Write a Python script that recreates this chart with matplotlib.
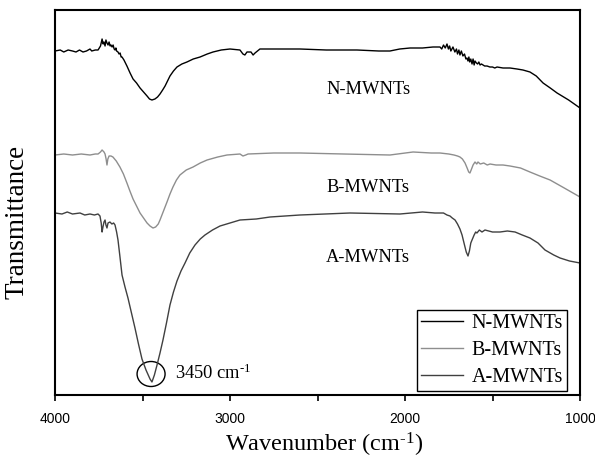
import matplotlib
matplotlib.use('Agg')
import matplotlib.pyplot as plt
from matplotlib.patches import Ellipse

plt.rcParams['mathtext.fontset'] = 'custom'
plt.rcParams['mathtext.rm'] = 'Liberation Serif'
plt.rcParams['mathtext.it'] = 'Liberation Serif:italic'

# FTIR spectra of the three MWNT samples (arbitrary transmittance units)
n_wn = [4000, 3970, 3950, 3925, 3900, 3880, 3860, 3840, 3820, 3800, 3790, 3770, 3754, 3740,
        3731, 3725, 3720, 3714, 3709, 3703, 3697, 3691, 3685, 3680, 3674, 3668, 3662, 3657,
        3652, 3648, 3640, 3634, 3628, 3622, 3617, 3606, 3589, 3571, 3554, 3534, 3514, 3494,
        3474, 3460, 3446, 3429, 3414, 3400, 3385, 3371, 3357, 3343, 3323, 3303, 3275, 3246,
        3210, 3171, 3130, 3097, 3050, 3000, 2943, 2926, 2915, 2903, 2880, 2868, 2857, 2829,
        2750, 2600, 2450, 2274, 2150, 2086, 2030, 1971, 1900, 1840, 1800, 1790, 1780, 1770,
        1760, 1752, 1745, 1738, 1726, 1715, 1706, 1700, 1692, 1686, 1678, 1669, 1660, 1652,
        1646, 1640, 1635, 1630, 1624, 1617, 1611, 1605, 1600, 1592, 1585, 1578, 1571, 1563,
        1554, 1545, 1531, 1515, 1500, 1487, 1474, 1440, 1400, 1360, 1326, 1286, 1250, 1211,
        1170, 1131, 1065, 1000]
n_tr = [344, 345, 343, 345, 344, 343, 345, 343, 344, 346, 344, 345, 345, 349,
        356, 351, 353, 349, 355, 352, 350, 353, 349, 350, 348, 350, 346, 345,
        347, 344, 343, 341, 342, 338, 338, 335, 329, 322, 316, 312, 307, 303,
        299, 296, 295, 296, 298, 301, 305, 309, 314, 319, 324, 328, 331, 333,
        336, 338, 341, 343, 345, 346, 345, 341, 340, 343, 343, 340, 342, 346,
        346, 346, 345, 345, 344, 344, 346, 347, 347, 348, 348, 346, 350, 347,
        351, 346, 349, 344, 348, 343, 346, 341, 345, 340, 344, 339, 341, 336,
        337, 334, 338, 333, 336, 331, 336, 330, 334, 332, 331, 333, 330, 331,
        330, 329, 329, 328, 328, 327, 328, 327, 327, 326, 325, 323, 319, 312,
        307, 302, 295, 287]

b_wn = [4000, 3950, 3900, 3850, 3800, 3770, 3754, 3740, 3731, 3720, 3714, 3708, 3703, 3698,
        3691, 3680, 3669, 3650, 3629, 3609, 3589, 3572, 3554, 3534, 3514, 3494, 3474, 3457,
        3440, 3425, 3410, 3400, 3380, 3360, 3343, 3326, 3306, 3286, 3250, 3211, 3170, 3131,
        3070, 3017, 2943, 2926, 2910, 2897, 2750, 2600, 2350, 2086, 1954, 1850, 1800, 1750,
        1720, 1700, 1686, 1672, 1657, 1645, 1636, 1629, 1622, 1611, 1600, 1590, 1583, 1570,
        1550, 1530, 1514, 1480, 1440, 1400, 1340, 1286, 1230, 1171, 1090, 1000]
b_tr = [240, 241, 240, 241, 240, 241, 241, 243, 245, 243, 241, 236, 230, 236,
        239, 239, 238, 234, 228, 221, 212, 204, 196, 189, 182, 177, 172, 169,
        167, 168, 171, 175, 184, 193, 201, 208, 215, 220, 225, 228, 232, 235,
        238, 240, 241, 239, 240, 241, 242, 242, 241, 240, 243, 242, 242, 241,
        240, 239, 238, 236, 232, 227, 223, 222, 225, 230, 233, 231, 233, 231,
        232, 230, 231, 230, 230, 229, 227, 223, 219, 215, 207, 198]

a_wn = [4000, 3960, 3930, 3900, 3857, 3830, 3800, 3775, 3754, 3743, 3736, 3731, 3726, 3720,
        3714, 3709, 3703, 3697, 3686, 3675, 3665, 3657, 3648, 3640, 3630, 3617, 3600, 3583,
        3563, 3543, 3523, 3503, 3480, 3457, 3446, 3432, 3417, 3400, 3383, 3363, 3343, 3323,
        3303, 3280, 3257, 3230, 3200, 3170, 3143, 3100, 3057, 3000, 2943, 2850, 2771, 2600,
        2314, 2029, 1900, 1829, 1780, 1760, 1743, 1730, 1714, 1700, 1686, 1674, 1660, 1650,
        1640, 1632, 1624, 1617, 1605, 1596, 1589, 1575, 1560, 1543, 1500, 1457, 1415, 1371,
        1330, 1286, 1240, 1200, 1150, 1114, 1060, 1000]
a_tr = [182, 181, 183, 181, 182, 180, 181, 180, 181, 179, 172, 163, 168, 173,
        175, 170, 167, 172, 173, 171, 172, 170, 163, 155, 140, 120, 108, 97,
        82, 67, 51, 36, 25, 16, 13, 20, 30, 42, 55, 72, 90, 103,
        114, 124, 132, 142, 150, 156, 160, 165, 169, 172, 175, 176, 178, 180,
        182, 181, 183, 182, 182, 180, 179, 177, 175, 171, 166, 160, 150, 143,
        139, 144, 152, 155, 160, 163, 162, 165, 163, 165, 163, 163, 164, 163,
        160, 157, 152, 145, 140, 137, 134, 132]

series = [
    ('N-MWNTs', n_wn, n_tr, '#000000'),
    ('B-MWNTs', b_wn, b_tr, '#8e8e8e'),
    ('A-MWNTs', a_wn, a_tr, '#404040'),
]

serif = ['Liberation Serif', 'DejaVu Serif']
sans = ['Liberation Sans', 'DejaVu Sans']

fig = plt.figure(figsize=(5.95, 4.59), dpi=100)
ax = fig.add_axes([55 / 595, 1 - 395 / 459, 525 / 595, 385 / 459])

for name, wn, tr, col in series:
    ax.plot(wn, tr, color=col, lw=1.0, label=name)

ax.set_xlim(4000, 1000)
ax.set_ylim(0, 385)
ax.set_xticks([4000, 3000, 2000, 1000])
ax.set_xticks([3500, 2500, 1500], minor=True)
ax.set_yticks([])
ax.tick_params(axis='x', which='both', direction='out', length=4.5, width=1.2,
               pad=7.8, labelsize=10)
for lbl in ax.get_xticklabels():
    lbl.set_family(sans)
for sp in ax.spines.values():
    sp.set_linewidth(1.5)

# sample names next to curves
ax.text(2211, 305, 'N-MWNTs', family=serif, fontsize=13.3, ha='center', va='center')
ax.text(2211, 207, 'B-MWNTs', family=serif, fontsize=13.3, ha='center', va='center')
ax.text(2211, 138, 'A-MWNTs', family=serif, fontsize=13.3, ha='center', va='center')

# O-H band marker
ax.add_patch(Ellipse((3451, 21), 160, 25, fill=False, ec='black', lw=1.0))
ax.text(3314, 22, '3450 cm$^{\\text{-1}}$', family=serif, fontsize=13.3,
        ha='left', va='center')

leg = ax.legend(loc='lower right', bbox_to_anchor=(0.975, 0.0104), borderaxespad=0,
                prop={'family': serif, 'size': 14.5}, fancybox=False, framealpha=1,
                edgecolor='black', handlelength=2.1, handletextpad=0.4,
                borderpad=0.2, labelspacing=0.38)
leg.get_frame().set_linewidth(1.0)

fig.text(324 / 595, 1 - 445 / 459, 'Wavenumber (cm$^{\\text{-1}}$)', family=serif,
         fontsize=17.5, ha='center', va='center')
fig.text(17 / 595, 1 - 222 / 459, 'Transmittance', family=serif, fontsize=19.5,
         ha='center', va='center', rotation=90)

fig.savefig('out.png', dpi=100)
